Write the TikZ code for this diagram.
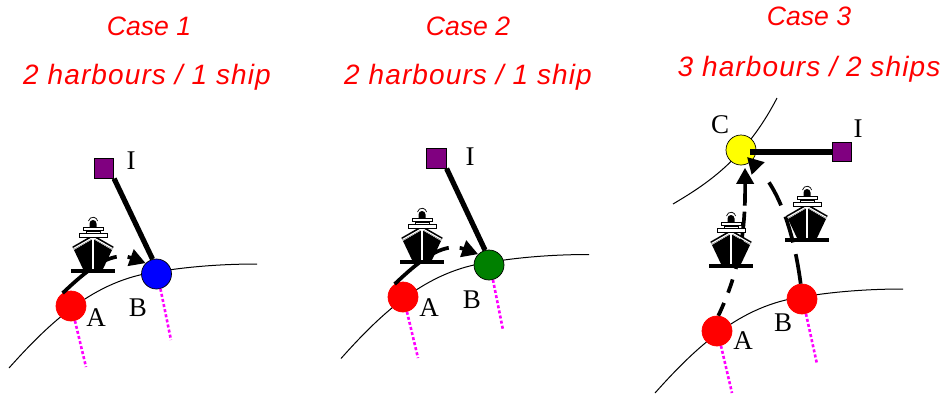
\documentclass[tikz,border=0pt]{standalone}
\usepackage{fontspec}
\setmainfont{Liberation Serif}
\newfontfamily\capfont{Liberation Sans}[ItalicFont=* Italic]
\newfontfamily\capwide{Liberation Sans}[ItalicFont=* Italic,LetterSpace=4]
\usetikzlibrary{arrows.meta}
\definecolor{harbourpurple}{RGB}{128,0,128}
\definecolor{harbourgreen}{RGB}{0,128,0}
\definecolor{depthpink}{RGB}{255,0,255}
\definecolor{harbouryellow}{RGB}{255,255,0}
\definecolor{harbourblue}{RGB}{0,0,255}
\tikzset{
  x=1pt,y=-1pt,
  captext/.style={text=red,font=\capfont\itshape\fontsize{26.6}{30}\selectfont,inner sep=0pt},
  capwidetext/.style={text=red,font=\capwide\itshape\fontsize{28}{30}\selectfont,inner sep=0pt},
  lettertext/.style={font=\fontsize{27}{30}\selectfont,inner sep=0pt},
  harbour/.style={circle,draw=black,line width=0.7pt,minimum size=30pt,inner sep=0pt},
  redharbour/.style={harbour,draw=red,fill=red},
  industry/.style={rectangle,draw=black,line width=0.7pt,fill=harbourpurple,minimum size=19.5pt,inner sep=0pt},
  coastline/.style={line width=1pt,black},
  feed/.style={line width=5.2pt,black},
  route/.style={line width=3.7pt,black,-{Triangle[length=16pt,width=17pt]}},
  depth/.style={line width=2.6pt,depthpink,dash pattern=on 3pt off 2.2pt},
  coast/.pic={
    \draw[coastline] (9,368) .. controls (50,322) and (95,280) .. (156,272)
      .. controls (185,267) and (220,264) .. (257,264);
  },
  ship/.pic={
    \fill[black] (-22,-2) rectangle (22,2);
    \fill[black] (-19,-21) -- (-10,-2) -- (10,-2) -- (19,-21) -- (0,-32) -- cycle;
    \draw[black,line width=3pt] (-20,-23) -- (0,-34.5) -- (20,-23);
    \draw[white,line width=1.2pt] (-19.5,-22.5) -- (0,-33.5) -- (19.5,-22.5);
    \draw[white,line width=1.6pt] (0,-33) -- (0,-2);
    \draw[black,fill=white,line width=0.7pt] (-7,-40) rectangle (7,-37);
    \draw[black,fill=white,line width=0.7pt] (-14,-37.5) rectangle (14,-34);
    \draw[black,fill=white,line width=0.7pt] (-10,-44) rectangle (10,-40.5);
    \fill[black] (-3.5,-44) -- (-3.5,-47.5) arc[start angle=180,end angle=360,radius=3.5] -- (3.5,-44) -- cycle;
    \draw[black,line width=0.7pt] (-4.5,-50) arc[start angle=190,end angle=350,radius=4.6];
  },
}
\begin{document}
\begin{tikzpicture}
\useasboundingbox (0,0) rectangle (946,397);
% Case 1
\node[captext] (t1a) at (149,26) {Case 1};
\node[capwidetext] (t1b) at (147,77) {2 harbours / 1 ship};
\pic at (0,0) {coast};
\coordinate (d1a) at (86,367); \coordinate (d1b) at (171,340);
\node[redharbour] (a1) at (71,306) {};
\node[harbour,fill=harbourblue] (b1) at (156.5,274) {};
\node[industry] (i1) at (104,168.5) {};
\node[lettertext] (li1) at (131,161) {I};
\node[lettertext] (la1) at (96,318) {A};
\node[lettertext] (lb1) at (138,308) {B};
\draw[depth] (a1.-75) -- (d1a);
\draw[depth] (b1.-75) -- (d1b);
\draw[feed] (i1.south east) -- (b1.105);
\draw[route,dash pattern=on 66pt off 11pt on 24pt off 0pt] (a1.123) .. controls (85,272) and (110,250) .. (b1.135);
\pic at (93,271) {ship};
% Case 2
\node[captext] (t2a) at (468,26) {Case 2};
\node[capwidetext] (t2b) at (468,77) {2 harbours / 1 ship};
\pic at (332,-9.5) {coast};
\coordinate (d2a) at (418,358); \coordinate (d2b) at (503,330);
\node[redharbour] (a2) at (403,297) {};
\node[harbour,fill=harbourgreen] (b2) at (489,265) {};
\node[industry] (i2) at (436.5,158.5) {};
\node[lettertext] (li2) at (470,157) {I};
\node[lettertext] (la2) at (429,308) {A};
\node[lettertext] (lb2) at (472,300) {B};
\draw[depth] (a2.-75) -- (d2a);
\draw[depth] (b2.-75) -- (d2b);
\draw[feed] (i2.south east) -- (b2.105);
\draw[route,dash pattern=on 66pt off 11pt on 24pt off 0pt] (a2.123) .. controls (417,263) and (442,241) .. (b2.135);
\pic at (422,262) {ship};
% Case 3
\node[captext] (t3a) at (809,16) {Case 3};
\node[capwidetext] (t3b) at (809,69) {3 harbours / 2 ships};
\pic at (646,25) {coast};
\draw[coastline] (673,204) .. controls (705,185) and (745,160) .. (777,98);
\coordinate (d3a) at (732,393); \coordinate (d3b) at (817,364);
\coordinate (ctip) at (747,157);
\node[redharbour] (a3) at (717,331) {};
\node[redharbour] (b3) at (802,299) {};
\node[harbour,fill=harbouryellow] (c3) at (741,150) {};
\node[industry] (i3) at (842,152) {};
\node[lettertext] (li3) at (858,129) {I};
\node[lettertext] (lc3) at (720,125) {C};
\node[lettertext] (la3) at (743,341) {A};
\node[lettertext] (lb3) at (783,323) {B};
\draw[depth] (a3.-75) -- (d3a);
\draw[depth] (b3.-75) -- (d3b);
\draw[feed,shorten <=-6pt] (c3.east |- i3.west) -- (i3.west);
\draw[route,shorten >=3pt,dash pattern=on 14pt off 11pt on 14pt off 11pt on 58pt off 6pt on 40pt off 0pt] (a3.85) .. controls (740,270) and (745.5,230) .. (c3.-75);
\draw[route,dash pattern=on 30pt off 12pt on 27pt off 12pt on 26pt off 30pt] (b3.95) .. controls (795,240) and (782,193) .. (ctip);
\pic at (731,266) {ship};
\pic at (807,240) {ship};
\end{tikzpicture}
\end{document}
